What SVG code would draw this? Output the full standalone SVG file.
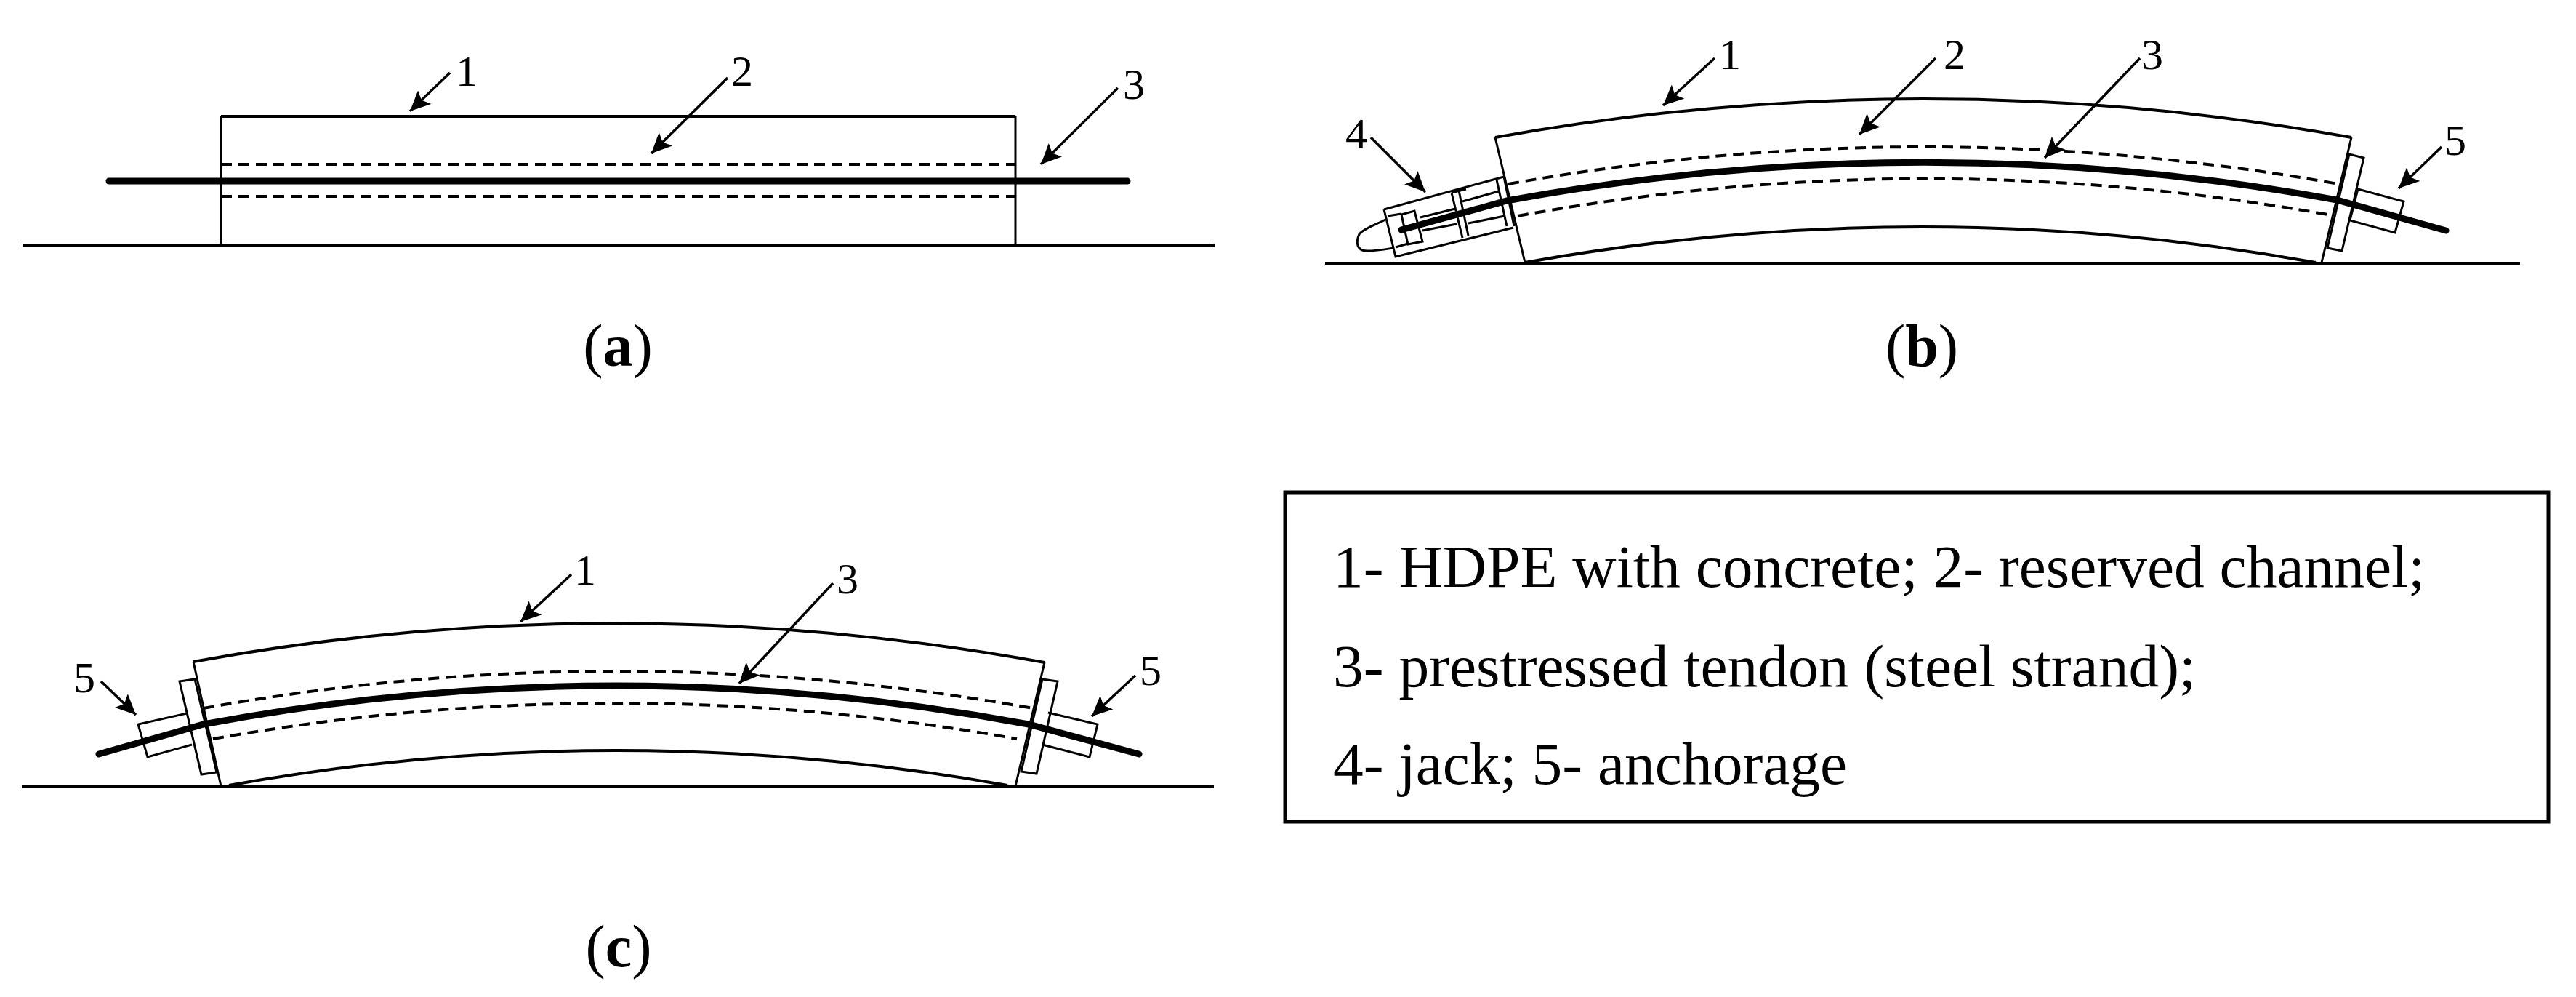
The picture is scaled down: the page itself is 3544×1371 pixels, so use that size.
<svg xmlns="http://www.w3.org/2000/svg" width="3544" height="1371" viewBox="0 0 3544 1371">
<style>
text{font-family:"Liberation Serif","Times New Roman",serif;fill:#000}
.n{font-size:60px;text-anchor:middle}
.cap{font-size:82px;text-anchor:middle}
.leg{font-size:83.500px}
.l{fill:none;stroke:#000;stroke-width:3}
.g{fill:none;stroke:#000;stroke-width:4}
.c{fill:none;stroke:#000;stroke-width:4}
.d{fill:none;stroke:#000;stroke-width:4;stroke-dasharray:15 9}
.t{fill:none;stroke:#000;stroke-width:9;stroke-linecap:round}
.a{fill:none;stroke:#000;stroke-width:3.500;marker-end:url(#ah)}
.w{fill:#fff;stroke:#000;stroke-width:3}
</style>
<defs>
<marker id="ah" markerUnits="userSpaceOnUse" markerWidth="30" markerHeight="26" refX="28" refY="13" orient="auto">
<path d="M28,13 L0,0 L6,13 L0,26 Z" fill="#000"/>
</marker>
</defs>
<rect width="3544" height="1371" fill="#fff"/>

<g id="panel-a">
<path class="g" d="M31,337.500H1671"/>
<path class="c" d="M304,160H1397"/>
<path class="l" d="M304,160V337M1397,160V337"/>
<path class="d" d="M304,226H1397M304,270H1397"/>
<path class="t" d="M150,249H1551"/>
<text class="n" x="642" y="118">1</text>
<text class="n" x="1021" y="118">2</text>
<text class="n" x="1560" y="136">3</text>
<text class="cap" x="850" y="503">(<tspan font-weight="bold">a</tspan>)</text>
</g>

<g id="panel-b">
<path class="g" d="M1823,362H3467"/>
<path class="c" d="M2057,189Q2646,83 3235,189"/>
<path class="l" d="M2057,189L2098,361M3235,189L3194,361"/>
<path class="c" d="M2098,361Q2646,263 3186,361"/>
<path class="d" d="M2075,253Q2646,151 3217,253M2088,297Q2646,195 3208,296"/>
<g id="jack">
<path class="l" d="M1904,288L2069,243M1904,288L1920,353L2082,313M1909,297L1928,294M1997,265L2017,260"/>
<path class="l" d="M1997,265L2012,327M2007,262L2020,324M2059,247L2073,311M2069,243L2083,311"/>
<path class="l" d="M1954,299L2002,287M2012,277L2062,263M1957,317L2004,308M2020,307L2070,297"/>
<path class="l" d="M1928,295L1946,290L1957,332L1937,336ZM1920,340L1937,335"/>
<path class="l" d="M1906,302C1890,310 1875,315 1870,322C1864,335 1868,345 1880,345C1895,345 1905,343 1917,341"/>
</g>
<g id="anchorage-b">
<polygon class="w" points="3232,212 3252,217 3222,345 3202,341"/>
<polygon class="l" points="3244,260 3307,277 3295,320 3233,303"/>
</g>
<path class="t" d="M1928,316L2073,276Q2646,171 3215,275L3365,317"/>
<text class="n" x="1866" y="204">4</text>
<text class="n" x="2380" y="95">1</text>
<text class="n" x="2689" y="95">2</text>
<text class="n" x="2961" y="95">3</text>
<text class="n" x="3378" y="213">5</text>
<text class="cap" x="2644" y="503">(<tspan font-weight="bold">b</tspan>)</text>
</g>

<g id="panel-c">
<path class="g" d="M30,1082H1670"/>
<path class="c" d="M266,910Q846,804 1437,911"/>
<path class="l" d="M266,910L304,1081M1437,911L1397,1081"/>
<path class="c" d="M315,1080Q846,984 1386,1080"/>
<path class="d" d="M280,974Q846,872 1421,974M293,1016Q846,918 1399,1016"/>
<g id="anchorage-c-left">
<polygon class="w" points="247,937 268,934 298,1062 277,1065"/>
<path class="l" d="M257,981L190,996L203,1041L264,1024"/>
</g>
<g id="anchorage-c-right">
<polygon class="w" points="1434,934 1455,937 1426,1064 1405,1061"/>
<path class="l" d="M1442,980L1510,996L1499,1041L1434,1024"/>
</g>
<path class="t" d="M136,1037L280,996Q846,890 1415,996L1567,1037"/>
<text class="n" x="805" y="804">1</text>
<text class="n" x="1166" y="816">3</text>
<text class="n" x="116" y="952">5</text>
<text class="n" x="1583" y="942">5</text>
<text class="cap" x="851" y="1329">(<tspan font-weight="bold">c</tspan>)</text>
</g>

<g id="connectors">
<path class="a" d="M619,100L564,153"/>
<path class="a" d="M1001,107L896,211"/>
<path class="a" d="M1538,121L1432,226"/>
<path class="a" d="M1886,189L1961,264"/>
<path class="a" d="M2359,80L2288,145"/>
<path class="a" d="M2663,80L2558,185"/>
<path class="a" d="M2944,80L2813,217"/>
<path class="a" d="M3359,202L3300,259"/>
<path class="a" d="M786,790L716,855"/>
<path class="a" d="M1146,802L1017,940"/>
<path class="a" d="M139,937L187,983"/>
<path class="a" d="M1562,929L1502,985"/>
</g>

<g id="legend">
<rect x="1768" y="677" width="1738" height="453" fill="#fff" stroke="#000" stroke-width="5"/>
<text class="leg" x="1834" y="807">1- HDPE with concrete; 2- reserved channel;</text>
<text class="leg" x="1834" y="944">3- prestressed tendon (steel strand);</text>
<text class="leg" x="1834" y="1078">4- jack; 5- anchorage</text>
</g>
</svg>
